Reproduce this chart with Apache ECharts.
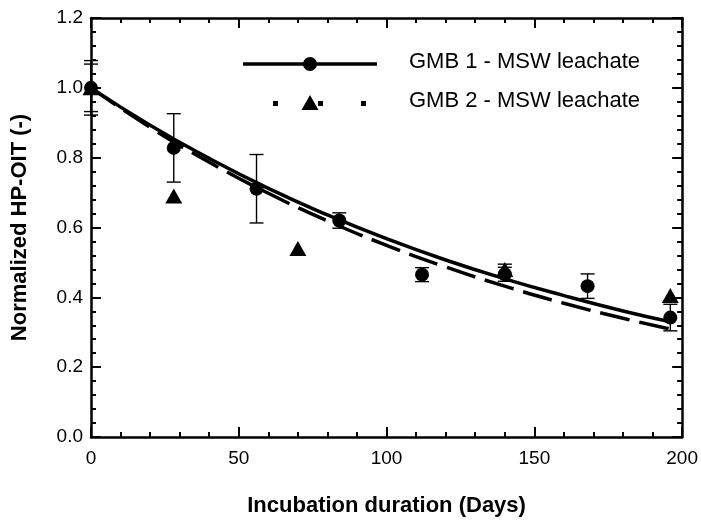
<html>
<head>
<meta charset="utf-8">
<title>Normalized HP-OIT</title>
<script src="https://cdn.jsdelivr.net/npm/echarts@6/dist/echarts.min.js"></script>
</head>
<body style="margin:0;background:#fff">
<div id="main" style="width:701px;height:522px;"></div>
<script>
// GMB 1 - MSW leachate (circles)
var days1 = [0, 28, 56, 84, 112, 140, 168, 196];
var hpoit1 = [1.0, 0.828, 0.711, 0.62, 0.465, 0.466, 0.432, 0.342];
var err1 = [0.078, 0.098, 0.098, 0.022, 0.02, 0.02, 0.035, 0.038];

// GMB 2 - MSW leachate (triangles)
var days2 = [0, 28, 70, 140, 196];
var hpoit2 = [1.0, 0.69, 0.54, 0.48, 0.405];
var err2 = [0.068, 0, 0, 0.015, 0];

// fitted curves
var fitDays1 = [0, 20, 40, 60, 80, 100, 120, 140, 160, 180, 196];
var fit1 = [1.0, 0.893, 0.798, 0.712, 0.636, 0.568, 0.507, 0.453, 0.405, 0.361, 0.330];
var fitDays2 = [0, 20, 40, 60, 80, 100, 120, 140, 160, 180, 198];
var fit2 = [1.0, 0.887, 0.787, 0.698, 0.619, 0.549, 0.487, 0.432, 0.383, 0.340, 0.305];

var xTicks = [0, 50, 100, 150, 200];
var yTicks = [0.0, 0.2, 0.4, 0.6, 0.8, 1.0, 1.2];

var font = "'Liberation Sans', Arial, sans-serif";

function pairs(xs, ys) {
  var out = [];
  for (var i = 0; i < xs.length; i++) out.push([xs[i], ys[i]]);
  return out;
}
function errData(xs, ys, es) {
  var out = [];
  for (var i = 0; i < xs.length; i++) {
    if (es[i] > 0) out.push([xs[i], ys[i] - es[i], ys[i] + es[i]]);
  }
  return out;
}
function errRender(params, api) {
  var lo = api.coord([api.value(0), api.value(1)]);
  var hi = api.coord([api.value(0), api.value(2)]);
  var w = 7;
  var st = { stroke: '#000', lineWidth: 1.4 };
  return {
    type: 'group',
    children: [
      { type: 'line', shape: { x1: lo[0], y1: lo[1], x2: hi[0], y2: hi[1] }, style: st },
      { type: 'line', shape: { x1: lo[0] - w, y1: lo[1], x2: lo[0] + w, y2: lo[1] }, style: st },
      { type: 'line', shape: { x1: hi[0] - w, y1: hi[1], x2: hi[0] + w, y2: hi[1] }, style: st }
    ]
  };
}

var axisLine = { show: true, onZero: false, lineStyle: { color: '#000', width: 2.5 } };
var tick = { show: true, inside: true, length: 10, lineStyle: { color: '#000', width: 2 } };
var minor = { show: true, splitNumber: 5, length: 5, lineStyle: { color: '#000', width: 2 } };

var myChart = echarts.init(document.getElementById('main'));
var option = {
  animation: false,
  backgroundColor: '#fff',
  grid: { left: 91, right: 17, top: 18, bottom: 84 },
  xAxis: [{
    type: 'value', min: 0, max: 200, interval: 50, position: 'bottom',
    name: 'Incubation duration (Days)', nameLocation: 'middle', nameGap: 58,
    nameTextStyle: { fontFamily: font, fontWeight: 'bold', fontSize: 22, color: '#000' },
    axisLine: axisLine, axisTick: tick, minorTick: minor, splitLine: { show: false },
    axisLabel: { fontFamily: font, fontSize: 19, color: '#000', margin: 12,
      formatter: function (v) { return xTicks.indexOf(v) >= 0 ? String(v) : ''; } }
  }, {
    type: 'value', min: 0, max: 200, interval: 50, position: 'top',
    axisLine: axisLine, axisTick: tick, minorTick: minor, splitLine: { show: false },
    axisLabel: { show: false }
  }],
  yAxis: [{
    type: 'value', min: 0, max: 1.2, interval: 0.2, position: 'left',
    name: 'Normalized HP-OIT (-)', nameLocation: 'middle', nameGap: 60,
    nameTextStyle: { fontFamily: font, fontWeight: 'bold', fontSize: 22, color: '#000' },
    axisLine: axisLine, axisTick: tick, minorTick: minor, splitLine: { show: false },
    axisLabel: { fontFamily: font, fontSize: 19, color: '#000', margin: 8,
      formatter: function (v) { return v.toFixed(1); } }
  }, {
    type: 'value', min: 0, max: 1.2, interval: 0.2, position: 'right',
    axisLine: axisLine, axisTick: tick, minorTick: minor, splitLine: { show: false },
    axisLabel: { show: false }
  }],
  series: [
    {
      name: 'fit1', type: 'line', smooth: true, symbol: 'none', z: 3,
      data: pairs(fitDays1, fit1),
      lineStyle: { color: '#000', width: 3.5 }
    },
    {
      name: 'fit2', type: 'line', smooth: true, symbol: 'none', z: 3,
      data: pairs(fitDays2, fit2),
      lineStyle: { color: '#000', width: 3.5, type: [30, 10] }
    },
    { name: 'err1', type: 'custom', renderItem: errRender, data: errData(days1, hpoit1, err1), z: 4 },
    { name: 'err2', type: 'custom', renderItem: errRender, data: errData(days2, hpoit2, err2), z: 4 },
    {
      name: 'GMB 2 - MSW leachate', type: 'scatter', symbol: 'triangle', symbolSize: [17, 15], z: 5,
      data: pairs(days2, hpoit2), itemStyle: { color: '#000', opacity: 1 }
    },
    {
      name: 'GMB 1 - MSW leachate', type: 'scatter', symbol: 'circle', symbolSize: 14, z: 6,
      data: pairs(days1, hpoit1), itemStyle: { color: '#000', opacity: 1 }
    }
  ],
  graphic: [
    { type: 'line', shape: { x1: 243, y1: 64, x2: 377, y2: 64 }, style: { stroke: '#000', lineWidth: 3.5 } },
    { type: 'circle', shape: { cx: 310, cy: 64, r: 7 }, style: { fill: '#000' } },
    { type: 'text', left: 409, top: 51, style: { text: 'GMB 1 - MSW leachate', fontFamily: font, fontSize: 22, fill: '#000' } },
    { type: 'rect', shape: { x: 273, y: 101, width: 5, height: 5 }, style: { fill: '#000' } },
    { type: 'rect', shape: { x: 318, y: 101, width: 5, height: 5 }, style: { fill: '#000' } },
    { type: 'rect', shape: { x: 361, y: 101, width: 5, height: 5 }, style: { fill: '#000' } },
    { type: 'polygon', shape: { points: [[310, 95], [318.5, 110], [301.5, 110]] }, style: { fill: '#000' } },
    { type: 'text', left: 409, top: 90, style: { text: 'GMB 2 - MSW leachate', fontFamily: font, fontSize: 22, fill: '#000' } }
  ]
};
myChart.setOption(option);
</script>
</body>
</html>
